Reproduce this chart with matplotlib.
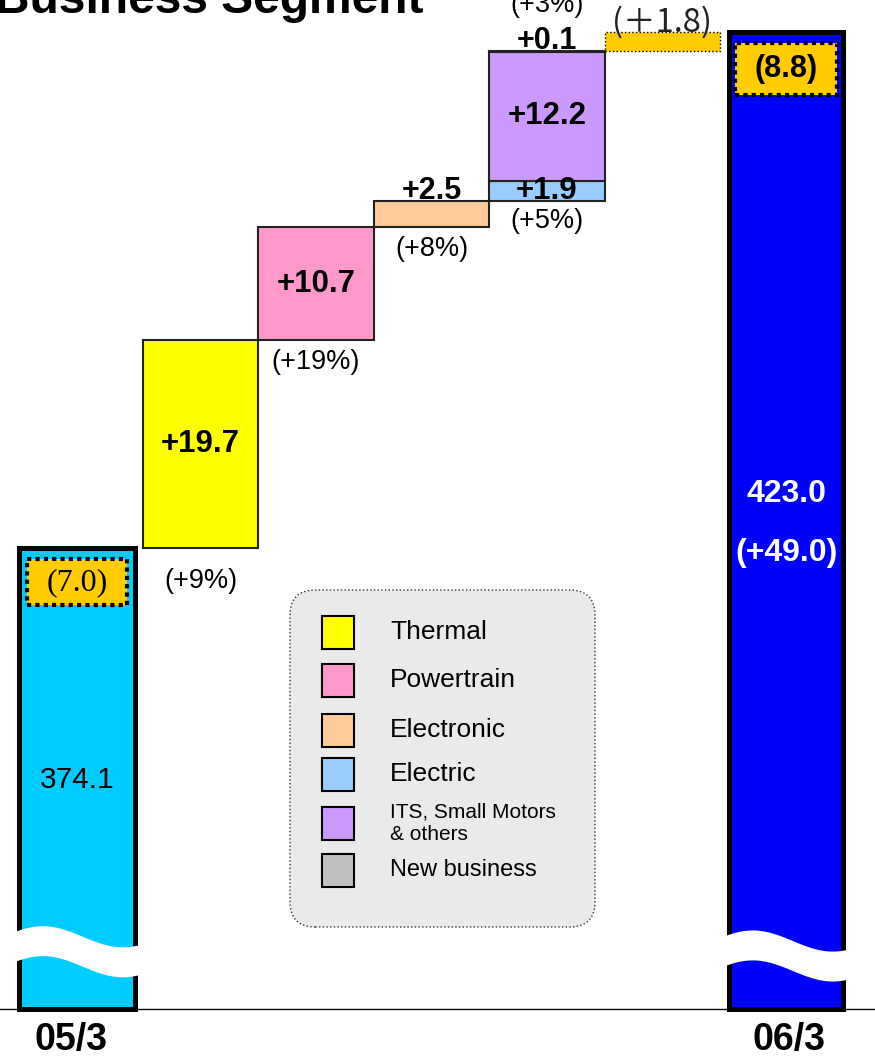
import numpy as np
import matplotlib.pyplot as plt
from matplotlib.patches import Rectangle, FancyBboxPatch

plt.rcParams['font.family'] = ['Liberation Sans', 'DejaVu Sans']

# net sales by business segment (billion yen)
period_labels = ['05/3', '06/3']
period_totals = [374.1, 423.0]
period_increase = '(+49.0)'
included_amounts = ['(7.0)', '(8.8)']
included_change = 1.8

segments = ['Thermal', 'Powertrain', 'Electronic', 'Electric',
            'ITS, Small Motors\n& others', 'New business']
segment_change = [19.7, 10.7, 2.5, 1.9, 12.2, 0.1]
segment_growth = ['(+9%)', '(+19%)', '(+8%)', '(+5%)', '(+3%)', '']
segment_column = [1, 2, 3, 4, 4, 4]

seg_colors = ['#FFFF00', '#FF99CC', '#FFCC99', '#99CCFF', '#CC99FF', '#C0C0C0']
value_place = ['center', 'center', 'above', 'center', 'center', 'above']
# pixel offsets: negative = below the bar, positive = above the column top
growth_offset = [-33, -22, -22, -20, 46, 0]
legend_font = [19, 19, 19, 19, 15, 17]
legend_row_y = [632, 680, 730, 774, 823, 870]

W, H, DPI = 875, 1061, 100
BASE = 330.41

fig = plt.figure(figsize=(W / DPI, H / DPI), dpi=DPI)
ax = fig.add_axes([0, 0, 1, 1])
ax.set_xlim(-0.736, 6.84)
ax.set_ylim(325.48, 426.03)
ax.axis('off')


def fx(px):
    return px / W


def fy(py):
    return 1 - py / H


fig.text(-0.006, fy(13), 'Business Segment', fontsize=34.5, fontweight='bold',
         ha='left', va='baseline')

ax.axhline(BASE, color='black', lw=1.0, zorder=1)

# period totals (axis broken below)
end_x = [-0.07, 6.07]
end_w = [1.0, 0.98]
end_colors = ['#00CCFF', '#0000FF']
ax.bar(end_x, [t - BASE for t in period_totals], bottom=BASE, width=end_w,
       color=end_colors, edgecolor='black', linewidth=3.6, zorder=2)

# dotted boxes for the included amount
box_inset = [0.065, 0.045]
box_h = [4.36, 4.93]
box_font = [dict(family=['Liberation Serif', 'DejaVu Serif'], fontsize=23),
            dict(fontweight='bold', fontsize=22)]
for x, w, top, ins, h, txt, fkw in zip(end_x, end_w, period_totals, box_inset,
                                        box_h, included_amounts, box_font):
    y1 = top - 1.09
    ax.add_patch(Rectangle((x - w / 2 + ins, y1 - h), w - 2 * ins, h,
                           facecolor='#FFCC00', edgecolor='black', lw=3,
                           ls=(0, (1, 1)), zorder=4))
    ax.text(x, y1 - h / 2, txt, ha='center', va='center', zorder=6, **fkw)

# wavy break across both total bars
break_left = [-0.589, 5.558]
break_width = [1.04, 1.02]
break_y = [337.3, 336.9]
for xl, bw, yc in zip(break_left, break_width, break_y):
    xs = np.linspace(xl - 0.06, xl + bw + 0.06, 200)
    top = yc + 1.0 * np.cos(2 * np.pi * (xs - xl - 0.22) / 1.385)
    ax.fill_between(xs, top - 2.84, top, color='white', lw=0, zorder=5)

ax.annotate(f'{period_totals[0]:.1f}', (end_x[0], period_totals[0]),
            xytext=(0, -232), textcoords='offset pixels', ha='center',
            va='center', fontsize=21.5, zorder=6)
ax.annotate(f'{period_totals[1]:.1f}', (end_x[1], period_totals[1]),
            xytext=(0, -462), textcoords='offset pixels', ha='center',
            va='center', fontsize=23, fontweight='bold', color='white', zorder=6)
ax.annotate(period_increase, (end_x[1], period_totals[1]),
            xytext=(0, -521), textcoords='offset pixels', ha='center',
            va='center', fontsize=23, fontweight='bold', color='white', zorder=6)

label_shift = [-6, 3]
for x, lab, dx in zip(end_x, period_labels, label_shift):
    ax.annotate(lab, (x, BASE), xytext=(dx, -31), textcoords='offset pixels',
                ha='center', va='center', fontsize=27, fontweight='bold')

# segment increments
level = period_totals[0]
seg_bottom = []
col_top = {}
for change, col, color, place in zip(segment_change, segment_column,
                                     seg_colors, value_place):
    ax.bar(col, change, bottom=level, width=1.0, color=color,
           edgecolor='#222222', linewidth=1.5, zorder=3)
    label = f'+{change}'
    if place == 'center':
        ax.text(col, level + change / 2, label, ha='center', va='center',
                fontsize=22.5, fontweight='bold', zorder=6)
    else:
        ax.annotate(label, (col, level + change), xytext=(0, 2),
                    textcoords='offset pixels', ha='center', va='baseline',
                    fontsize=22, fontweight='bold', zorder=6)
    seg_bottom.append(level)
    level += change
    col_top[col] = level

for growth, col, bottom, off in zip(segment_growth, segment_column,
                                    seg_bottom, growth_offset):
    if not growth:
        continue
    anchor = bottom if off < 0 else col_top[col]
    ax.annotate(growth, (col, anchor), xytext=(0, off),
                textcoords='offset pixels', ha='center', va='center',
                fontsize=19.5, zorder=6)

# change of the included amount
ax.bar(5, included_change, bottom=level, width=1.0, color='#FFCC00',
       edgecolor='black', linewidth=1.0, linestyle=':', zorder=3)
ax.annotate(f'(＋{included_change})', (5, level + included_change),
            xytext=(0, 10), textcoords='offset pixels', ha='center',
            va='center', fontsize=23.5, color='#222222',
            family=['Noto Sans CJK JP', 'DejaVu Sans'], zorder=6)

# legend panel
ax.add_patch(FancyBboxPatch((fx(290), fy(927)), 305 / W, 337 / H,
                            boxstyle='round,pad=0,rounding_size=0.029',
                            mutation_aspect=W / H, transform=ax.transAxes,
                            facecolor='#EAEAEA', edgecolor='#333333',
                            lw=1, ls=':', zorder=1))
for name, color, py, fs in zip(segments, seg_colors, legend_row_y, legend_font):
    ax.add_patch(Rectangle((fx(322), fy(py + 16.5)), 32 / W, 33 / H,
                           transform=ax.transAxes, facecolor=color,
                           edgecolor='black', lw=1.5, zorder=2))
    ax.text(fx(390), fy(py), name, transform=ax.transAxes, ha='left',
            va='center', fontsize=fs, linespacing=1.2, zorder=2)

fig.savefig('out.png', dpi=DPI)
